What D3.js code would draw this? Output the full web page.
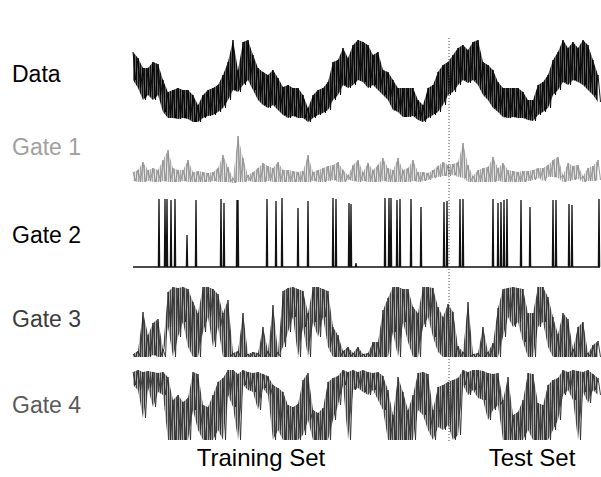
<!DOCTYPE html>
<html>
<head>
<meta charset="utf-8">
<script src="https://cdn.jsdelivr.net/npm/d3@7.9.0/dist/d3.min.js"></script>
<style>
  body { margin: 0; background: #fff; }
  svg { display: block; font-family: "Liberation Sans", Arial, Helvetica, sans-serif; }
</style>
</head>
<body>
<svg id="chart" width="601" height="477"></svg>
<script>
// samples are taken every 5 time units, t = 0 .. 465
const step = 5;
const tMax = 467;
const testStart = 316; // first sample of the test set

const dataHi = [70,64,54,54,60,58,42,30,32,34, 32,32,27,17,27,32,34,37,47,60,
  82,52,80,82,67,54,50,47,52,44, 35,37,34,34,27,14,27,32,34,40,
  60,62,74,64,77,82,80,77,67,70, 52,50,42,34,34,34,34,22,17,34,
  37,50,57,60,67,74,77,72,80,82, 60,57,52,40,34,34,34,34,30,22,
  22,37,40,47,62,70,82,74,80,74, 82,77,62,47];
const dataLo = [42,34,22,27,22,27,10,4,4,3, 4,3,0,0,4,6,7,10,14,22,
  32,30,37,42,32,22,17,14,17,12, 7,4,6,4,4,0,4,7,9,12,
  22,27,37,34,37,42,40,34,37,32, 27,22,12,10,5,5,6,2,0,4,
  7,10,17,27,30,37,42,39,42,37, 27,22,14,10,5,4,5,4,4,2,
  1,7,10,14,27,32,40,37,42,40, 37,32,27,20];

const gate1Hi = [11,13,21,13,15,13,23,33,15,13, 13,23,11,12,11,10,11,15,28,16,
  5,47,25,8,11,15,20,17,15,21, 13,13,12,11,12,28,11,13,15,17,
  18,21,13,8,18,23,11,20,13,18, 25,15,13,25,13,15,23,11,11,10,
  13,17,21,18,19,21,40,18,7,13, 15,16,26,15,20,13,12,11,12,12,
  13,15,15,18,23,26,8,20,17,18, 7,15,17,23];
const gate1Lo = [2,1,1,2,1,1,2,1,1,1, 2,1,1,1,1,1,2,1,1,1,
  0,1,1,2,1,1,1,2,1,1, 1,1,1,1,1,1,2,1,1,2,
  3,1,1,3,2,1,2,1,1,1, 2,1,1,1,1,1,2,1,2,3,
  5,6,7,7,8,6,5,1,1,1, 1,1,1,2,1,1,1,1,1,2,
  3,5,2,6,6,5,1,2,3,4, 1,2,2,3];

const gate2Time = [26,32,34,38,42,54,63,88,91,104,105,134,143,149,165,175,200,203,216,218,
  223,252,256,258,264,267,278,288,311,314,327,330,360,365,368,371,374,388,397,420,
  423,436,439,466];
const gate2Height = [69,69,69,68,69,33,68,69,65,68,68,69,67,70,60,67,70,69,65,64,
  5,70,70,70,68,69,69,61,66,67,69,69,69,65,66,68,69,68,61,68,
  68,64,63,69];

const gate3Hi = [3,6,45,22,34,38,8,65,70,69, 70,68,55,44,70,70,68,63,44,57,
  4,6,44,3,5,4,30,6,52,5, 66,69,70,68,66,44,70,70,68,66,
  30,22,6,10,4,10,3,4,15,15, 47,59,70,70,68,68,50,44,70,70,
  69,50,40,53,45,11,5,55,3,4, 30,5,14,49,68,69,70,69,68,44,
  44,70,70,60,40,23,44,38,8,30, 35,4,12,16];
const gate3Lo = [0,0,0,0,2,0,0, 30,0,20,35,10, 0,0, 25,40,10,30,
  0,0,0,0,0,0,0,0,0,0,0,0, 10,25,40,0,30, 0, 35,20,40,10,
  0,0,0,0,0,0,0,0,0,0, 0,0, 25,0,35,15, 0,0, 30,40,20, 5,0,0,0,
  0,0,0,0,0,0,0,0, 0, 20,40,30,35,15, 0,0, 30,35,10,
  0,0,0,0,0,0,0,0,0,0];

const gate4Hi = [68,70,68,69,68,67,68,63,40,45, 38,42,68,66,35,33,45,58,62,70,
  70,66,70,68,67,68,66,64,55,52, 48,35,33,36,60,67,30,27,32,58,
  62,64,70,68,70,68,70,68,67,68, 64,50,25,63,48,30,45,67,68,66,
  30,53,55,58,60,62,70,68,70,70, 69,67,66,67,40,63,25,28,40,67,
  66,37,35,55,60,62,70,68,70,69, 68,70,66,62];
const gate4Lo = [55,50,22,52,33,48,45, 0,0,0,0,0, 30,10, 0,0, 0,10,0,
  45,33,0,55, 50,48,30,52,45, 0,10,0, 0,0,0, 5,20, 0,0,0, 0,20,35,
  55,0,50,52, 48,45,50,40,30, 0,0,0,0,0,0, 30,25,10, 0, 13,10,15, 0,5,
  55,45,50,42, 40,20,30,35, 0,0,0,0,0, 10,0, 0,0, 0,10,20,
  45,50,40,0,48,37,50,45];

const svg = d3.select('#chart');
const defs = svg.append('defs');

// vertical hatch fills that mimic the dense sampled strokes of the print
function hatch(id, dark, light) {
  const pat = defs.append('pattern')
    .attr('id', id)
    .attr('patternUnits', 'userSpaceOnUse')
    .attr('width', 2).attr('height', 2);
  pat.append('rect').attr('width', 2).attr('height', 2).attr('fill', light);
  pat.append('rect').attr('width', 1).attr('height', 2).attr('fill', dark);
}
hatch('hatch-data', '#111', '#666');
hatch('hatch-g1', '#a8a8a8', '#e6e6e6');
hatch('hatch-g3', '#444', '#b0b0b0');

const x = d3.scaleLinear().domain([0, tMax]).range([133, 600]);

// panel layout: baseline of each strip
const panels = [
  { label: 'Data',   hi: dataHi,  lo: dataLo,  base: 122, labelY: 82,  labelColor: '#000', fill: 'url(#hatch-data)', stroke: '#000' },
  { label: 'Gate 1', hi: gate1Hi, lo: gate1Lo, base: 183, labelY: 155, labelColor: '#a0a0a0', fill: 'url(#hatch-g1)', stroke: '#8c8c8c' },
  { label: 'Gate 2', base: 268, labelY: 243, labelColor: '#000' },
  { label: 'Gate 3', hi: gate3Hi, lo: gate3Lo, base: 357, labelY: 327, labelColor: '#3c3c3c', fill: 'url(#hatch-g3)', stroke: '#2a2a2a' },
  { label: 'Gate 4', hi: gate4Hi, lo: gate4Lo, base: 440, labelY: 413, labelColor: '#5a5a5a', fill: 'url(#hatch-g3)', stroke: '#2a2a2a' },
];

panels.forEach((p) => {
  const y = d3.scaleLinear().domain([0, 80]).range([p.base, p.base - 80]);

  svg.append('text')
    .attr('x', 12)
    .attr('y', p.labelY)
    .attr('font-size', 23)
    .attr('fill', p.labelColor)
    .text(p.label);

  if (p.hi) {
    const samples = p.hi.map((h, i) => ({ t: i * step, hi: h, lo: p.lo[i] }));

    const area = d3.area()
      .x((d) => x(d.t))
      .y0((d) => y(d.lo))
      .y1((d) => y(d.hi));

    svg.append('path')
      .attr('d', area(samples))
      .attr('fill', p.fill)
      .attr('stroke', 'none');

    // zig-zag through the highs and lows
    const zig = samples.flatMap((d) => [[d.t, d.hi], [d.t + step / 2, d.lo]]);
    svg.append('path')
      .attr('d', d3.line().x((d) => x(d[0])).y((d) => y(d[1]))(zig))
      .attr('fill', 'none')
      .attr('stroke', p.stroke)
      .attr('stroke-width', 0.9);
  } else {
    // Gate 2: sparse spikes on a flat baseline
    const pts = [[0, 1]];
    gate2Time.forEach((t, i) => {
      pts.push([t - 0.6, 1], [t, gate2Height[i]], [t + 0.6, 1]);
    });
    pts.push([tMax, 1]);
    svg.append('path')
      .attr('d', d3.line().x((d) => x(d[0])).y((d) => y(d[1]))(pts))
      .attr('fill', 'none')
      .attr('stroke', '#111')
      .attr('stroke-width', 1.3);
  }
});

// boundary between training and test data
svg.append('line')
  .attr('x1', x(testStart)).attr('x2', x(testStart))
  .attr('y1', 38).attr('y2', 442)
  .attr('stroke', '#444')
  .attr('stroke-width', 1)
  .attr('stroke-dasharray', '1,2');

svg.append('text')
  .attr('x', x(128))
  .attr('y', 466)
  .attr('text-anchor', 'middle')
  .attr('font-size', 24)
  .text('Training Set');

svg.append('text')
  .attr('x', x(399))
  .attr('y', 466)
  .attr('text-anchor', 'middle')
  .attr('font-size', 24)
  .text('Test Set');
</script>
</body>
</html>
